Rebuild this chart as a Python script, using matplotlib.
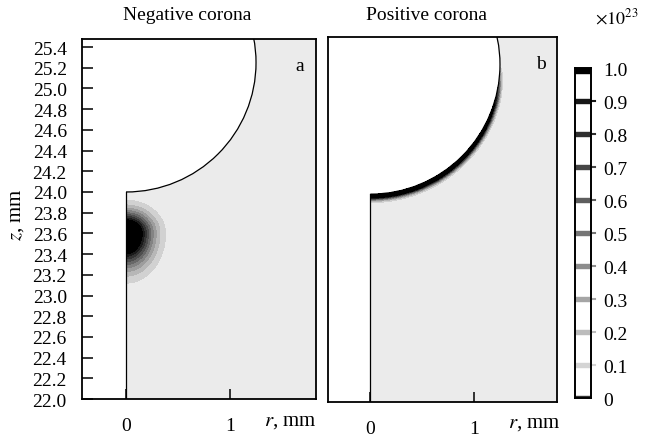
import numpy as np
import matplotlib
matplotlib.use("Agg")
import matplotlib.pyplot as plt
from matplotlib.colors import LinearSegmentedColormap
from matplotlib.patches import Arc

plt.rcParams['font.family'] = ['Liberation Serif', 'DejaVu Serif']
plt.rcParams['mathtext.fontset'] = 'stix'

# axis ticks
z_ticks = [22.0, 22.2, 22.4, 22.6, 22.8, 23.0, 23.2, 23.4, 23.6, 23.8,
           24.0, 24.2, 24.4, 24.6, 24.8, 25.0, 25.2, 25.4]
r_ticks = [0, 1]
cbar_levels = [0, 0.1, 0.2, 0.3, 0.4, 0.5, 0.6, 0.7, 0.8, 0.9, 1.0]
cbar_labels = ['0', '0.1', '0.2', '0.3', '0.4', '0.5', '0.6', '0.7', '0.8', '0.9', '1.0']

# electrode geometry (mm)
tip_z = 24.0
sphere_r = 1.25
sphere_zc = 25.25

# negative corona: ion cloud near the axis (units 1e23)
blob_peak = 1.4
blob_z0 = 23.6
blob_sr = 0.234
blob_sz_up = 0.197
blob_sz_down = 0.296

# positive corona: thin layer on the sphere surface
layer_angle = [0, 30, 60, 75, 85, 90, 180]
layer_amp = [1.5, 1.45, 1.25, 0.85, 0.35, 0.0, 0.0]
layer_width = [0.05, 0.048, 0.042, 0.035, 0.025, 0.02, 0.02]

cmap = LinearSegmentedColormap.from_list('grey', ['#ebebeb', '#000000'])
band_colors = [cmap(i / 9) for i in range(10)] + ['#000000']

fig = plt.figure(figsize=(6.5, 4.39), dpi=100)
axL = fig.add_axes([0.1262, 0.0888, 0.3600, 0.8201])
axR = fig.add_axes([0.5046, 0.0830, 0.3523, 0.8303])
axC = fig.add_axes([0.8846, 0.0911, 0.0246, 0.7517])

r = np.linspace(-0.5, 1.9, 900)
z = np.linspace(21.9, 25.6, 1400)
R, Z = np.meshgrid(r, z)
dist = np.sqrt(R ** 2 + (Z - sphere_zc) ** 2)
outside = (R < 0) | ((dist < sphere_r) & (Z > tip_z - 0.01))

# left field
sz = np.where(Z > blob_z0, blob_sz_up, blob_sz_down)
fL = blob_peak * np.exp(-(R / blob_sr) ** 2 - ((Z - blob_z0) / sz) ** 2)
fL = np.ma.masked_where(outside, fL)

# right field
ang = np.degrees(np.arctan2(R, sphere_zc - Z))
amp = np.interp(ang, layer_angle, layer_amp)
wid = np.interp(ang, layer_angle, layer_width)
d = np.clip(dist - sphere_r, 0, None)
fR = amp * np.exp(-(d / wid) ** 2)
fR = np.ma.masked_where(outside, fR)

lv = cbar_levels + [10]
for ax, f, xl, yl in [(axL, fL, (-0.423, 1.827), (22.0, 25.478)),
                      (axR, fR, (-0.41, 1.80), (22.0, 25.515))]:
    ax.contourf(R, Z, f, levels=lv, colors=band_colors)
    ax.add_patch(Arc((0, sphere_zc), 2 * sphere_r, 2 * sphere_r,
                     theta1=-90, theta2=90, color='black', lw=0.9))
    ax.plot([0, 0], [21.9, tip_z], color='black', lw=0.9)
    ax.set_xlim(*xl)
    ax.set_ylim(*yl)
    ax.set_xticks(r_ticks)
    ax.set_xticklabels([str(t) for t in r_ticks])
    ax.tick_params(axis='x', direction='in', length=7, width=1.1, pad=13, labelsize=14)
    for s in ax.spines.values():
        s.set_linewidth(1.3)

axL.set_yticks(z_ticks)
axL.set_yticklabels(['%.1f' % t for t in z_ticks])
axL.tick_params(axis='y', direction='in', length=8, width=1.1, pad=11, labelsize=14)
axR.set_yticks([])

axL.text(0.93, 0.915, 'a', transform=axL.transAxes, fontsize=14, ha='center')
axR.text(0.93, 0.915, 'b', transform=axR.transAxes, fontsize=14, ha='center')

fig.text(187 / 650, 1 - 16 / 439, 'Negative corona', ha='center', va='center', fontsize=14)
fig.text(426 / 650, 1 - 16 / 439, 'Positive corona', ha='center', va='center', fontsize=14)
fig.text(290 / 650, 1 - 422 / 439, '$r$, mm', ha='center', va='center', fontsize=15)
fig.text(534 / 650, 1 - 424 / 439, '$r$, mm', ha='center', va='center', fontsize=15)
fig.text(16 / 650, 1 - 215 / 439, '$z$, mm', ha='center', va='center', fontsize=15, rotation=90)

# colorbar drawn as grey bands at each level
axC.set_xlim(0, 1)
axC.set_ylim(0, 1)
for v in cbar_levels:
    c = cmap(v)
    if v == 1.0:
        axC.axhspan(0.985, 1.0, color='black')
    elif v > 0:
        axC.axhspan(v - 0.005, v + 0.005, color=c)
        axC.plot([1.0, 1.25], [v, v], color=c, lw=1.5, clip_on=False)
    else:
        axC.axhspan(0.0, 0.006, color='#333333')
axC.set_xticks([])
axC.set_yticks(cbar_levels)
axC.set_yticklabels(cbar_labels)
axC.yaxis.tick_right()
axC.tick_params(axis='y', length=0, pad=9, labelsize=14)
for s in axC.spines.values():
    s.set_linewidth(1.4)
fig.text(617 / 650, 1 - 18 / 439, r'$\times 10^{23}$', ha='center', va='center', fontsize=13)

fig.savefig('out.png', dpi=100)
